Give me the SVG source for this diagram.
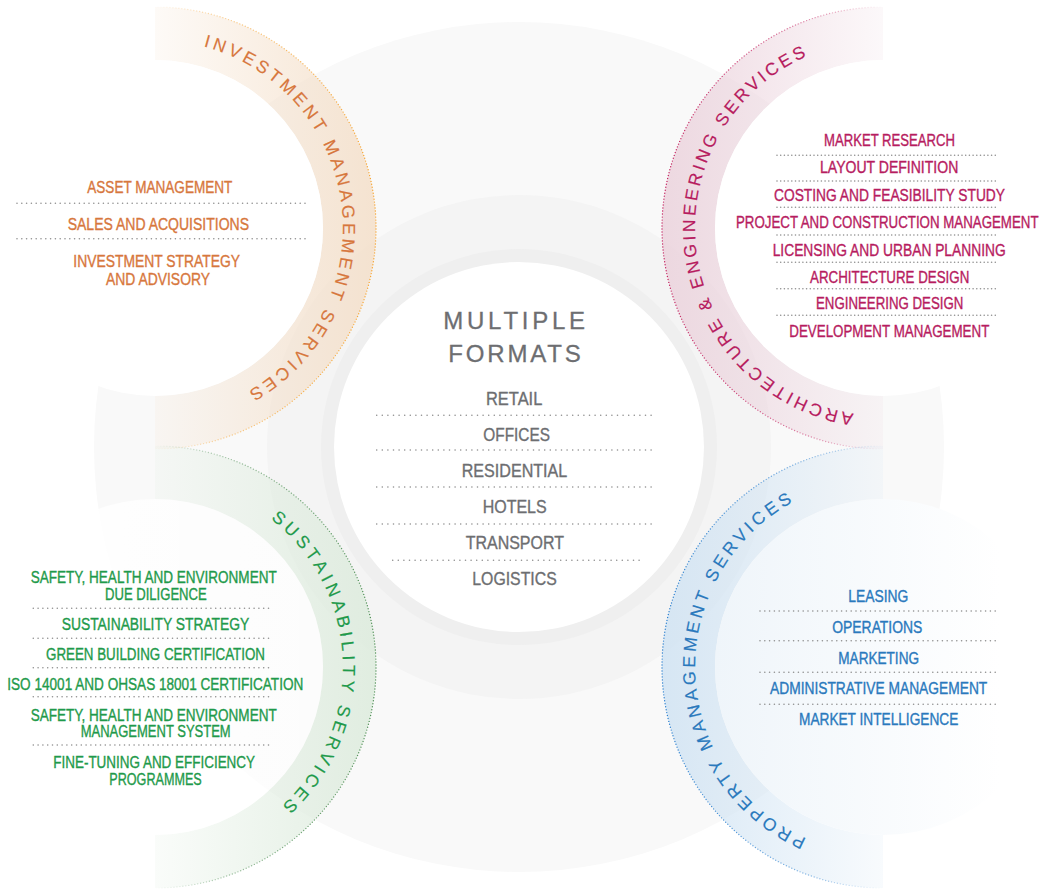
<svg xmlns="http://www.w3.org/2000/svg" width="1042" height="893" viewBox="0 0 1042 893">
<style>
text{font-family:"Liberation Sans",Arial,sans-serif}
.it{font-size:16px;stroke-width:0.35}
.ct{font-size:18px;stroke-width:0.35}
.tt{font-size:24px;stroke-width:0.3}
.arc{font-size:17.5px}
.or{fill:#d7773d;stroke:#d7773d}
.pk{fill:#b71c5f;stroke:#b71c5f}
.gr{fill:#1f9a4b;stroke:#1f9a4b}
.bl{fill:#2a79bd;stroke:#2a79bd}
.gy{fill:#6d6e71;stroke:#6d6e71}
.arc.or,.arc.pk,.arc.gr,.arc.bl{stroke-width:0.15}
.sep{stroke:#8f8f8f;stroke-width:1.6;stroke-linecap:round;stroke-dasharray:0 4.8;fill:none}
.sepp{stroke-dasharray:0 3.7}
.sepc{stroke-dasharray:0 5.6}
.dots{fill:none;stroke-width:1.4;stroke-linecap:round;stroke-dasharray:0 3}
</style>
<defs>
<linearGradient id="gOr" gradientUnits="userSpaceOnUse" x1="155" y1="0" x2="376" y2="0"><stop offset="0" stop-color="#f4dfc9" stop-opacity="0.15"/><stop offset="1" stop-color="#f4dfc9" stop-opacity="0.85"/></linearGradient>
<linearGradient id="dOr" gradientUnits="userSpaceOnUse" x1="155" y1="0" x2="376" y2="0"><stop offset="0" stop-color="#f7a531" stop-opacity="0"/><stop offset="0.3" stop-color="#f7a531" stop-opacity="0.5"/><stop offset="1" stop-color="#f7a531"/></linearGradient>
<linearGradient id="gPk" gradientUnits="userSpaceOnUse" x1="883" y1="0" x2="662" y2="0"><stop offset="0" stop-color="#ebd2dc" stop-opacity="0.15"/><stop offset="1" stop-color="#ebd2dc" stop-opacity="0.85"/></linearGradient>
<linearGradient id="dPk" gradientUnits="userSpaceOnUse" x1="883" y1="0" x2="662" y2="0"><stop offset="0" stop-color="#c4215f" stop-opacity="0"/><stop offset="0.3" stop-color="#c4215f" stop-opacity="0.5"/><stop offset="1" stop-color="#c4215f"/></linearGradient>
<linearGradient id="gGr" gradientUnits="userSpaceOnUse" x1="155" y1="0" x2="376" y2="0"><stop offset="0" stop-color="#dcebdc" stop-opacity="0.15"/><stop offset="1" stop-color="#dcebdc" stop-opacity="0.85"/></linearGradient>
<linearGradient id="dGr" gradientUnits="userSpaceOnUse" x1="155" y1="0" x2="376" y2="0"><stop offset="0" stop-color="#4f8f55" stop-opacity="0"/><stop offset="0.3" stop-color="#4f8f55" stop-opacity="0.5"/><stop offset="1" stop-color="#4f8f55"/></linearGradient>
<linearGradient id="gBl" gradientUnits="userSpaceOnUse" x1="883" y1="0" x2="662" y2="0"><stop offset="0" stop-color="#d0e3f3" stop-opacity="0.15"/><stop offset="1" stop-color="#d0e3f3" stop-opacity="0.85"/></linearGradient>
<linearGradient id="dBl" gradientUnits="userSpaceOnUse" x1="883" y1="0" x2="662" y2="0"><stop offset="0" stop-color="#2a7fcf" stop-opacity="0"/><stop offset="0.3" stop-color="#2a7fcf" stop-opacity="0.5"/><stop offset="1" stop-color="#2a7fcf"/></linearGradient>
<linearGradient id="iGr" gradientUnits="userSpaceOnUse" x1="0" y1="0" x2="323" y2="0"><stop offset="0" stop-color="#ffffff"/><stop offset="1" stop-color="#ffffff" stop-opacity="0.55"/></linearGradient>
<linearGradient id="iBl" gradientUnits="userSpaceOnUse" x1="715" y1="0" x2="1000" y2="0"><stop offset="0" stop-color="#eff5fa"/><stop offset="1" stop-color="#ffffff"/></linearGradient>
<path id="pOr" d="M203.66,46.4 A188,188 0 0 1 249,390.8"/>
<path id="pPk" d="M853.6,413.7 A188,188 0 0 1 806.5,56.3"/>
<path id="pGr" d="M270.7,518.9 A188,188 0 0 1 282,805.6"/>
<path id="pBl" d="M806.5,838.7 A188,188 0 0 1 791.9,502.6"/>
</defs>

<g id="background">
<rect width="1042" height="893" fill="#ffffff"/>
<circle cx="519" cy="447" r="425" fill="#f9f9f9"/>
<circle cx="519" cy="447" r="252" fill="#f4f4f4"/>
<circle cx="519" cy="447" r="198" fill="#efefef"/>
</g>

<g id="investment-management">
<path d="M155,7 A221,221 0 0 1 155,449 L155,396 A168,168 0 0 0 155,60 Z" fill="url(#gOr)"/>
<path class="dots" d="M155,7 A221,221 0 0 1 155,449" stroke="url(#dOr)"/>
<circle cx="155" cy="228" r="168" fill="#ffffff"/>
<text class="arc or"><textPath href="#pOr" textLength="443" lengthAdjust="spacing">INVESTMENT MANAGEMENT SERVICES</textPath></text>
<text class="it or" x="87.3" y="193.3" textLength="145" lengthAdjust="spacingAndGlyphs">ASSET MANAGEMENT</text>
<line class="sep" x1="17" y1="203.3" x2="307" y2="203.3"/>
<text class="it or" x="67.7" y="230" textLength="181.3" lengthAdjust="spacingAndGlyphs">SALES AND ACQUISITIONS</text>
<line class="sep" x1="17" y1="238.7" x2="307" y2="238.7"/>
<text class="it or" x="73.3" y="266.7" textLength="166.7" lengthAdjust="spacingAndGlyphs">INVESTMENT STRATEGY</text>
<text class="it or" x="106" y="285" textLength="104" lengthAdjust="spacingAndGlyphs">AND ADVISORY</text>
</g>

<g id="architecture-engineering">
<path d="M883,7 A221,221 0 0 0 883,449 L883,396 A168,168 0 0 1 883,60 Z" fill="url(#gPk)"/>
<path class="dots" d="M883,7 A221,221 0 0 0 883,449" stroke="url(#dPk)"/>
<circle cx="883" cy="228" r="168" fill="#ffffff"/>
<text class="arc pk"><textPath href="#pPk" textLength="482" lengthAdjust="spacing">ARCHITECTURE &amp; ENGINEERING SERVICES</textPath></text>
<text class="it pk" x="824" y="146" textLength="131" lengthAdjust="spacingAndGlyphs">MARKET RESEARCH</text>
<line class="sep sepp" x1="777" y1="155.3" x2="998" y2="155.3"/>
<text class="it pk" x="820" y="173.3" textLength="138.3" lengthAdjust="spacingAndGlyphs">LAYOUT DEFINITION</text>
<line class="sep sepp" x1="777" y1="181" x2="998" y2="181"/>
<text class="it pk" x="774" y="201" textLength="231" lengthAdjust="spacingAndGlyphs">COSTING AND FEASIBILITY STUDY</text>
<line class="sep sepp" x1="777" y1="207.3" x2="998" y2="207.3"/>
<text class="it pk" x="736" y="228.3" textLength="302.5" lengthAdjust="spacingAndGlyphs">PROJECT AND CONSTRUCTION MANAGEMENT</text>
<line class="sep sepp" x1="777" y1="235" x2="998" y2="235"/>
<text class="it pk" x="772.7" y="255.7" textLength="233" lengthAdjust="spacingAndGlyphs">LICENSING AND URBAN PLANNING</text>
<line class="sep sepp" x1="777" y1="262.3" x2="998" y2="262.3"/>
<text class="it pk" x="810" y="282.7" textLength="159.3" lengthAdjust="spacingAndGlyphs">ARCHITECTURE DESIGN</text>
<line class="sep sepp" x1="777" y1="288.7" x2="998" y2="288.7"/>
<text class="it pk" x="816" y="309.3" textLength="147.3" lengthAdjust="spacingAndGlyphs">ENGINEERING DESIGN</text>
<line class="sep sepp" x1="777" y1="315.3" x2="998" y2="315.3"/>
<text class="it pk" x="789.3" y="337.3" textLength="200" lengthAdjust="spacingAndGlyphs">DEVELOPMENT MANAGEMENT</text>
</g>

<g id="sustainability">
<path d="M155,446 A221,221 0 0 1 155,888 L155,835 A168,168 0 0 0 155,499 Z" fill="url(#gGr)"/>
<path class="dots" d="M155,446 A221,221 0 0 1 155,888" stroke="url(#dGr)"/>
<circle cx="155" cy="667" r="168" fill="url(#iGr)"/>
<text class="arc gr"><textPath href="#pGr" textLength="326" lengthAdjust="spacing">SUSTAINABILITY SERVICES</textPath></text>
<text class="it gr" x="30.7" y="583.3" textLength="246" lengthAdjust="spacingAndGlyphs">SAFETY, HEALTH AND ENVIRONMENT</text>
<text class="it gr" x="105" y="600" textLength="101.7" lengthAdjust="spacingAndGlyphs">DUE DILIGENCE</text>
<line class="sep" x1="33.3" y1="608.3" x2="272.7" y2="608.3"/>
<text class="it gr" x="61.7" y="630" textLength="187.6" lengthAdjust="spacingAndGlyphs">SUSTAINABILITY STRATEGY</text>
<line class="sep" x1="33.3" y1="638.3" x2="272.7" y2="638.3"/>
<text class="it gr" x="46" y="660" textLength="219" lengthAdjust="spacingAndGlyphs">GREEN BUILDING CERTIFICATION</text>
<line class="sep" x1="33.3" y1="667.7" x2="272.7" y2="667.7"/>
<text class="it gr" x="7.3" y="690" textLength="296" lengthAdjust="spacingAndGlyphs">ISO 14001 AND OHSAS 18001 CERTIFICATION</text>
<line class="sep" x1="33.3" y1="696.7" x2="272.7" y2="696.7"/>
<text class="it gr" x="30.7" y="720.7" textLength="246" lengthAdjust="spacingAndGlyphs">SAFETY, HEALTH AND ENVIRONMENT</text>
<text class="it gr" x="80.7" y="737.3" textLength="150" lengthAdjust="spacingAndGlyphs">MANAGEMENT SYSTEM</text>
<line class="sep" x1="33.3" y1="745" x2="272.7" y2="745"/>
<text class="it gr" x="53.3" y="767.7" textLength="201.7" lengthAdjust="spacingAndGlyphs">FINE-TUNING AND EFFICIENCY</text>
<text class="it gr" x="109.3" y="785" textLength="92.4" lengthAdjust="spacingAndGlyphs">PROGRAMMES</text>
</g>

<g id="property-management">
<path d="M883,446 A221,221 0 0 0 883,888 L883,835 A168,168 0 0 1 883,499 Z" fill="url(#gBl)"/>
<path class="dots" d="M883,446 A221,221 0 0 0 883,888" stroke="url(#dBl)"/>
<circle cx="883" cy="667" r="168" fill="url(#iBl)"/>
<text class="arc bl"><textPath href="#pBl" textLength="417" lengthAdjust="spacing">PROPERTY MANAGEMENT SERVICES</textPath></text>
<text class="it bl" x="848.3" y="602.3" textLength="60" lengthAdjust="spacingAndGlyphs">LEASING</text>
<line class="sep" x1="760" y1="611" x2="999" y2="611"/>
<text class="it bl" x="832.3" y="633.3" textLength="90" lengthAdjust="spacingAndGlyphs">OPERATIONS</text>
<line class="sep" x1="760" y1="640.7" x2="999" y2="640.7"/>
<text class="it bl" x="838.3" y="664" textLength="80.7" lengthAdjust="spacingAndGlyphs">MARKETING</text>
<line class="sep" x1="760" y1="672.3" x2="999" y2="672.3"/>
<text class="it bl" x="770" y="694.3" textLength="217.3" lengthAdjust="spacingAndGlyphs">ADMINISTRATIVE MANAGEMENT</text>
<line class="sep" x1="760" y1="704.3" x2="999" y2="704.3"/>
<text class="it bl" x="799" y="725.3" textLength="159.3" lengthAdjust="spacingAndGlyphs">MARKET INTELLIGENCE</text>
</g>

<g id="multiple-formats">
<circle cx="519" cy="447" r="185" fill="#ffffff"/>
<text class="tt gy" x="443.3" y="329.3" textLength="141.7" lengthAdjust="spacing">MULTIPLE</text>
<text class="tt gy" x="448.3" y="361.7" textLength="132.4" lengthAdjust="spacing">FORMATS</text>
<text class="ct gy" x="486" y="405" textLength="56.3" lengthAdjust="spacingAndGlyphs">RETAIL</text>
<line class="sep sepc" x1="376.7" y1="415.3" x2="652.3" y2="415.3"/>
<text class="ct gy" x="483.3" y="440.7" textLength="66.7" lengthAdjust="spacingAndGlyphs">OFFICES</text>
<line class="sep sepc" x1="376.7" y1="450" x2="652.3" y2="450"/>
<text class="ct gy" x="461.7" y="476.7" textLength="105.6" lengthAdjust="spacingAndGlyphs">RESIDENTIAL</text>
<line class="sep sepc" x1="376.7" y1="487" x2="652.3" y2="487"/>
<text class="ct gy" x="482.7" y="512.7" textLength="64" lengthAdjust="spacingAndGlyphs">HOTELS</text>
<line class="sep sepc" x1="376.7" y1="524" x2="652.3" y2="524"/>
<text class="ct gy" x="465.7" y="549" textLength="98.3" lengthAdjust="spacingAndGlyphs">TRANSPORT</text>
<line class="sep sepc" x1="392.7" y1="560.3" x2="641.7" y2="560.3"/>
<text class="ct gy" x="472.3" y="585" textLength="84.4" lengthAdjust="spacingAndGlyphs">LOGISTICS</text>
</g>

<g id="connectors"/>
</svg>
